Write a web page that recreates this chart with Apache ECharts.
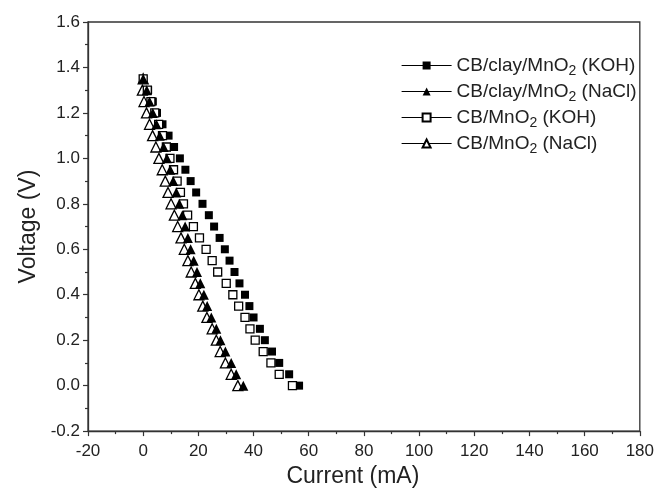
<!DOCTYPE html>
<html>
<head>
<meta charset="utf-8">
<script src="https://cdn.jsdelivr.net/npm/echarts@6/dist/echarts.min.js"></script>
<style>
  html, body { margin: 0; padding: 0; background: #fff; }
  #chart { width: 657px; height: 493px; }
</style>
</head>
<body>
<div id="chart"></div>
<script>
// voltage steps shared by all curves (V)
const voltage = [1.35, 1.30, 1.25, 1.20, 1.15, 1.10, 1.05, 1.00, 0.95, 0.90, 0.85, 0.80, 0.75, 0.70,
  0.65, 0.60, 0.55, 0.50, 0.45, 0.40, 0.35, 0.30, 0.25, 0.20, 0.15, 0.10, 0.05, 0.00]

// current (mA) at each voltage step
const clayKOH = [0, 1.8, 3.5, 5.0, 7.0, 9.2, 11.2, 13.3, 15.3, 17.2, 19.2, 21.5, 23.8, 25.7,
  27.7, 29.6, 31.3, 33.1, 34.9, 36.9, 38.5, 40.0, 42.3, 44.1, 46.7, 49.3, 52.9, 56.5]
const clayNaCl = [0, 1.3, 2.3, 3.5, 4.8, 6.0, 7.4, 8.6, 9.8, 10.9, 12.0, 13.1, 14.2, 15.2,
  16.2, 17.2, 18.3, 19.5, 20.7, 22.0, 23.2, 24.7, 26.5, 28.0, 29.8, 31.9, 33.7, 36.3]
const cbKOH = [0, 1.5, 2.8, 4.2, 5.6, 7.0, 8.4, 9.7, 11.0, 12.3, 13.5, 14.6, 16.1, 18.2,
  20.4, 22.8, 25.0, 27.0, 30.1, 32.5, 34.6, 36.9, 38.7, 40.6, 43.5, 46.3, 49.3, 54.1]
const cbNaCl = [0, -0.3, 0.3, 1.2, 2.3, 3.4, 4.6, 5.7, 6.9, 8.0, 9.0, 10.1, 11.3, 12.5,
  13.7, 14.9, 16.2, 17.4, 18.9, 20.2, 21.6, 23.1, 25.0, 26.5, 27.9, 29.8, 31.9, 34.3]

const names = {
  clayKOH: 'CB/clay/MnO2 (KOH)',
  clayNaCl: 'CB/clay/MnO2 (NaCl)',
  cbKOH: 'CB/MnO2 (KOH)',
  cbNaCl: 'CB/MnO2 (NaCl)'
}

const toPoints = (cur) => cur.map((c, i) => [c, voltage[i]])

const makeSeries = (name, cur, symbol, size, filled) => ({
  name: name,
  type: 'line',
  data: toPoints(cur),
  symbol: symbol,
  symbolSize: size,
  showAllSymbol: true,
  lineStyle: { opacity: 0 },
  itemStyle: {
    color: filled ? '#000' : '#fff',
    borderColor: '#000',
    borderWidth: filled ? 0 : 1.3,
    opacity: 1
  },
  emphasis: { disabled: true },
  animation: false
})

const chart = echarts.init(document.getElementById('chart'))

const font = 'Liberation Sans, Arial, sans-serif'

const option = {
  backgroundColor: '#fff',
  textStyle: { fontFamily: font },
  grid: {
    left: 88,
    right: 15,
    top: 22,
    bottom: 59,
    show: true,
    borderColor: '#333',
    borderWidth: 1.3
  },
  legend: {
    orient: 'vertical',
    left: 396,
    top: 51,
    itemWidth: 50,
    itemHeight: 10,
    itemGap: 4,
    data: [names.clayKOH, names.clayNaCl, names.cbKOH, names.cbNaCl],
    lineStyle: { color: '#000', width: 1.2, opacity: 1 },
    formatter: (n) => {
      const m = n.match(/^(.*MnO)2( .*)$/)
      return '{a|' + m[1] + '}{s|2}{a|' + m[2] + '}'
    },
    textStyle: {
      fontFamily: font,
      rich: {
        a: { fontSize: 19, color: '#222', fontFamily: font },
        s: { fontSize: 14, color: '#222', fontFamily: font, padding: [11, 0, 0, 0] }
      }
    }
  },
  xAxis: {
    type: 'value',
    min: -20,
    max: 180,
    interval: 20,
    name: 'Current (mA)',
    nameLocation: 'middle',
    nameGap: 33,
    nameTextStyle: { fontSize: 23, color: '#222', fontFamily: font, padding: [0, 22, 0, 0] },
    axisLine: { onZero: false, lineStyle: { color: '#333', width: 1.3 } },
    axisTick: { show: true, inside: false, length: 5, lineStyle: { color: '#333', width: 1.2 } },
    minorTick: { show: true, splitNumber: 2, length: 3, lineStyle: { color: '#333', width: 1.2 } },
    axisLabel: { fontSize: 17, color: '#222', margin: 12, fontFamily: font },
    splitLine: { show: false }
  },
  yAxis: {
    type: 'value',
    min: -0.2,
    max: 1.6,
    interval: 0.2,
    name: 'Voltage (V)',
    nameLocation: 'middle',
    nameGap: 44,
    nameTextStyle: { fontSize: 23, color: '#222', fontFamily: font },
    axisLine: { onZero: false, lineStyle: { color: '#333', width: 1.3 } },
    axisTick: { show: true, inside: false, length: 5, lineStyle: { color: '#333', width: 1.2 } },
    minorTick: { show: true, splitNumber: 2, length: 3, lineStyle: { color: '#333', width: 1.2 } },
    axisLabel: {
      fontSize: 17, color: '#222', margin: 8, fontFamily: font,
      formatter: (v) => v.toFixed(1)
    },
    splitLine: { show: false }
  },
  series: [
    makeSeries(names.clayKOH, clayKOH, 'rect', 8, true),
    makeSeries(names.cbNaCl, cbNaCl, 'triangle', 10, false),
    makeSeries(names.cbKOH, cbKOH, 'rect', 8, false),
    makeSeries(names.clayNaCl, clayNaCl, 'triangle', 10, true)
  ]
}

chart.setOption(option)
</script>
</body>
</html>
